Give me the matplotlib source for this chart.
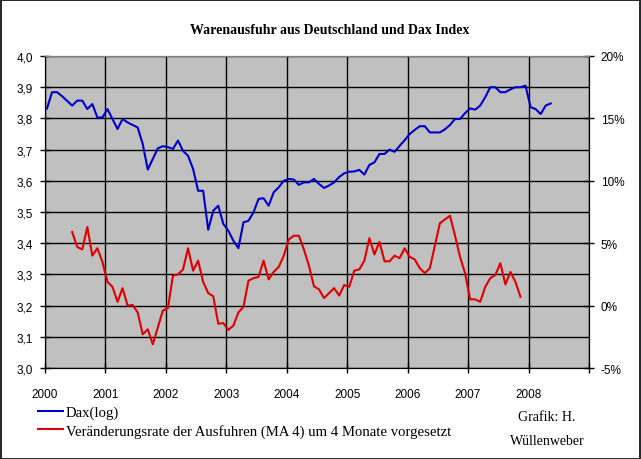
"""
Warenausfuhr aus Deutschland und Dax Index
"""

### Import modules
import numpy as np
import matplotlib
matplotlib.use('Agg')
import matplotlib.pyplot as plt
from matplotlib.patches import Rectangle
from matplotlib.ticker import FuncFormatter

### Data: monthly values starting January 2000
daxlog = [3.832, 3.884, 3.884, 3.871, 3.856, 3.841, 3.857, 3.857, 3.830, 3.846,
          3.803, 3.803, 3.830, 3.798, 3.766, 3.798, 3.787, 3.779, 3.771, 3.718,
          3.636, 3.670, 3.704, 3.711, 3.708, 3.702, 3.729, 3.696, 3.680, 3.638,
          3.568, 3.568, 3.443, 3.504, 3.520, 3.462, 3.440, 3.408, 3.384, 3.467,
          3.472, 3.499, 3.542, 3.544, 3.520, 3.563, 3.579, 3.600, 3.606, 3.604,
          3.587, 3.595, 3.595, 3.606, 3.590, 3.577, 3.585, 3.595, 3.612, 3.624,
          3.629, 3.630, 3.635, 3.620, 3.651, 3.659, 3.686, 3.686, 3.700, 3.693,
          3.712, 3.730, 3.750, 3.763, 3.775, 3.775, 3.755, 3.755, 3.755, 3.765,
          3.779, 3.798, 3.798, 3.817, 3.832, 3.828, 3.841, 3.868, 3.900, 3.900,
          3.884, 3.884, 3.893, 3.900, 3.900, 3.905, 3.836, 3.830, 3.814, 3.841,
          3.848]

### Export growth rate (MA 4), shifted 4 months, in percent; starts June 2000
exportstart = 5
exportrate = [5.9, 4.7, 4.5, 6.3, 4.0, 4.6, 3.5, 1.9, 1.5, 0.3,
              1.4, 0.0, 0.05, -0.55, -2.3, -1.9, -3.1, -1.75, -0.4, -0.2,
              2.4, 2.5, 2.9, 4.6, 2.8, 3.6, 1.9, 1.0, 0.75, -1.45,
              -1.4, -1.95, -1.6, -0.55, -0.1, 2.0, 2.2, 2.3, 3.6, 2.1,
              2.7, 3.1, 4.0, 5.3, 5.6, 5.6, 4.5, 3.2, 1.55, 1.3,
              0.6, 1.0, 1.4, 0.8, 1.65, 1.5, 2.8, 2.9, 3.6, 5.4,
              4.1, 5.1, 3.55, 3.55, 4.0, 3.8, 4.6, 3.9, 3.7, 3.0,
              2.6, 3.0, 4.8, 6.6, 6.9, 7.2, 5.6, 3.9, 2.6, 0.5,
              0.5, 0.3, 1.5, 2.2, 2.45, 3.4, 1.7, 2.7, 1.9, 0.7]

years = np.arange(2000, 2009, 1)
leftticks = np.arange(3.0, 4.01, 0.1)
rightticks = np.arange(-5, 21, 5)

### Time axis (decimal years, monthly)
timedax = 2000 + (np.arange(len(daxlog)) + 0.4)/12.
timeexp = 2000 + (np.arange(len(exportrate)) + exportstart + 0.4)/12.

###############################################################################
### Plot figure
plt.rc('font', family='Liberation Serif')
tickfont = {'family': 'Liberation Sans', 'size': 8.5}

fig = plt.figure(figsize=(6.41, 4.60), dpi=100)
fig.patches.append(Rectangle((0.001, 0.001), 0.997, 0.997, transform=fig.transFigure,
                             fill=False, edgecolor='black', linewidth=1.2))

ax = fig.add_axes([45/641., 1-369/460., (589-45)/641., (369-57)/460.])
ax.set_facecolor('#c0c0c0')
ax.set_axisbelow(True)
ax.grid(True, color='black', linewidth=1.0)

ax.plot(timedax, daxlog, color='#0000cc', linewidth=1.5, label='Dax(log)')

ax.set_xlim([2000, 2009])
ax.set_ylim([3.0, 4.0])
ax.set_xticks(np.arange(2000, 2010, 1))
ax.set_xticklabels([str(y) for y in years] + [''], fontdict=tickfont)
ax.set_yticks(leftticks)
ax.yaxis.set_major_formatter(FuncFormatter(lambda v, p: ('%.1f' % v).replace('.', ',')))
for lab in ax.get_yticklabels():
    lab.set_fontfamily('Liberation Sans')
    lab.set_fontsize(8.5)
ax.tick_params(axis='x', length=7, width=1, direction='inout', pad=11)
ax.tick_params(axis='y', length=7, width=1, direction='inout', pad=5)

ax.spines['top'].set_color('#808080')
ax.spines['right'].set_color('black')

### Secondary axis for export growth rate
ax2 = ax.twinx()
ax2.plot(timeexp, exportrate, color='#e00000', linewidth=1.5,
         label='Veränderungsrate der Ausfuhren (MA 4) um 4 Monate vorgesetzt')
ax2.set_ylim([-5, 20])
ax2.set_yticks(rightticks)
ax2.set_yticklabels(['%d%%' % v for v in rightticks], fontdict=tickfont)
ax2.tick_params(axis='y', length=7, width=1, direction='inout', pad=5)
ax2.spines['top'].set_color('#808080')

### Title
fig.text(0.515, 1-30/460., 'Warenausfuhr aus Deutschland und Dax Index',
         ha='center', va='center', fontsize=10, fontweight='bold')

### Legend
h1, l1 = ax.get_legend_handles_labels()
h2, l2 = ax2.get_legend_handles_labels()
fig.legend(h1 + h2, l1 + l2, loc='upper left', bbox_to_anchor=(0.05, 1-401/460.),
           frameon=False, fontsize=10.6, handlelength=1.7, handletextpad=0.2,
           labelspacing=0.3, borderaxespad=0)

fig.text(547/641., 1-418/460., 'Grafik: H.', ha='center', va='center', fontsize=10)
fig.text(547/641., 1-442/460., 'Wüllenweber', ha='center', va='center', fontsize=10)

plt.savefig('out.png', dpi=100)
